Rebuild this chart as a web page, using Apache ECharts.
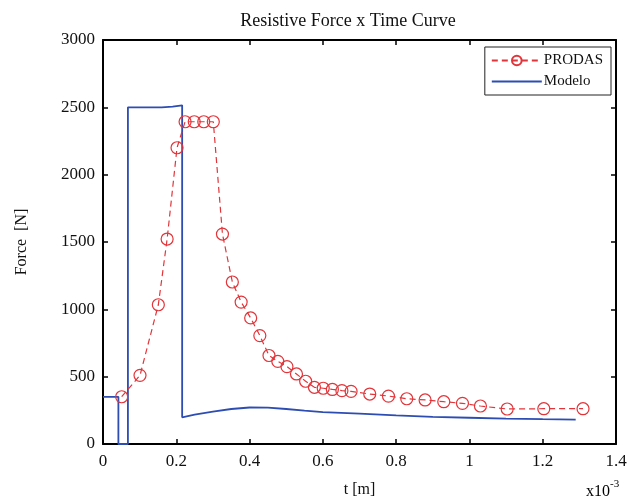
<!DOCTYPE html>
<html>
<head>
<meta charset="utf-8">
<script src="https://cdn.jsdelivr.net/npm/echarts@6/dist/echarts.min.js"></script>
<style>html,body{margin:0;padding:0;background:#fff}#c{width:644px;height:499px}</style>
</head>
<body>
<div id="c"></div>
<script>
var prodasT = [0.051,0.101,0.151,0.175,0.202,0.224,0.249,0.275,0.301,0.326,0.353,0.377,0.403,0.428,0.453,0.477,0.502,0.528,0.553,0.577,0.601,0.626,0.652,0.677,0.728,0.779,0.829,0.879,0.930,0.981,1.030,1.103,1.203,1.310];
var prodasF = [351,510,1034,1522,2200,2393,2393,2393,2393,1559,1203,1054,936,805,657,614,575,520,466,421,414,405,396,391,371,356,336,327,314,302,282,260,262,262];
var modeloT = [0,0.042,0.042,0.068,0.068,0.16,0.19,0.216,0.216,0.25,0.3,0.35,0.4,0.45,0.5,0.55,0.6,0.7,0.8,0.9,1.0,1.1,1.2,1.29];
var modeloF = [350,350,0,0,2500,2500,2505,2515,198,218,240,260,271,270,260,248,237,225,213,202,195,188,184,181];
var xTicks = {min:0, max:1.4, interval:0.2};
var yTicks = {min:0, max:3000, interval:500};

var FONT = '"Liberation Serif", "DejaVu Serif", serif';
function zip(a,b){return a.map(function(v,i){return [v,b[i]];});}
var chart = echarts.init(document.getElementById('c'), null, {renderer:'canvas'});
var axisLine = {show:true, onZero:false, lineStyle:{color:'#000', width:2}};
var tick = {show:true, inside:true, length:5, lineStyle:{color:'#000', width:1.5}};
chart.setOption({
  animation:false,
  backgroundColor:'#fff',
  title:{text:'Resistive Force x Time Curve', left:343, top:7, textAlign:'center',
    textStyle:{fontFamily:FONT, fontSize:18, fontWeight:'normal', color:'#111'}},
  grid:{left:103, right:28, top:40, bottom:55, outerBoundsMode:'none', containLabel:false},
  legend:{orient:'vertical', right:33, top:47, itemWidth:50, itemHeight:12, itemGap:6,
    padding:[6,8,6,6], borderColor:'#222', borderWidth:1, backgroundColor:'#fff',
    textStyle:{fontFamily:FONT, fontSize:15, color:'#111', padding:[0,0,0,-3]},
    data:[{name:'PRODAS'},{name:'Modelo', itemStyle:{opacity:0}}]},
  xAxis:[{type:'value', min:xTicks.min, max:xTicks.max, interval:xTicks.interval,
      name:'t [m]', nameLocation:'middle', nameGap:38,
      nameTextStyle:{fontFamily:FONT, fontSize:16, color:'#111'},
      axisLine:axisLine, axisTick:tick, splitLine:{show:false},
      axisLabel:{fontFamily:FONT, fontSize:17, color:'#111', margin:9,
        formatter:function(v){return String(Number(v.toFixed(1)));}}},
    {type:'value', position:'top', min:xTicks.min, max:xTicks.max, interval:xTicks.interval,
      axisLine:axisLine, axisTick:tick, axisLabel:{show:false}, splitLine:{show:false}}],
  yAxis:[{type:'value', min:yTicks.min, max:yTicks.max, interval:yTicks.interval,
      name:'Force  [N]', nameLocation:'middle', nameGap:73,
      nameTextStyle:{fontFamily:FONT, fontSize:16, color:'#111'},
      axisLine:axisLine, axisTick:tick, splitLine:{show:false},
      axisLabel:{fontFamily:FONT, fontSize:17, color:'#111', margin:8,
        formatter:function(v){return String(v);}}},
    {type:'value', position:'right', min:yTicks.min, max:yTicks.max, interval:yTicks.interval,
      axisLine:axisLine, axisTick:tick, axisLabel:{show:false}, splitLine:{show:false}}],
  graphic:[{type:'text', left:586, top:479,
    style:{text:'{a|x10}{b|-3}', rich:{a:{fontFamily:FONT, fontSize:16, color:'#111', verticalAlign:'bottom'},
      b:{fontFamily:FONT, fontSize:11, color:'#111', verticalAlign:'top', padding:[0,0,10,0]}}}}],
  series:[
    {name:'PRODAS', type:'line', data:zip(prodasT,prodasF), xAxisIndex:0, yAxisIndex:0,
      symbol:'circle', symbolSize:12, showAllSymbol:true,
      itemStyle:{color:'rgba(255,255,255,0)', borderColor:'#e2353a', borderWidth:1.2},
      lineStyle:{color:'#e2353a', width:1.2, type:[6,4]}, z:3},
    {name:'Modelo', type:'line', data:zip(modeloT,modeloF), xAxisIndex:0, yAxisIndex:0,
      symbol:'none', itemStyle:{color:'#2d4db3'},
      lineStyle:{color:'#2d4db3', width:1.8}, z:2}
  ]
});
</script>
</body>
</html>
